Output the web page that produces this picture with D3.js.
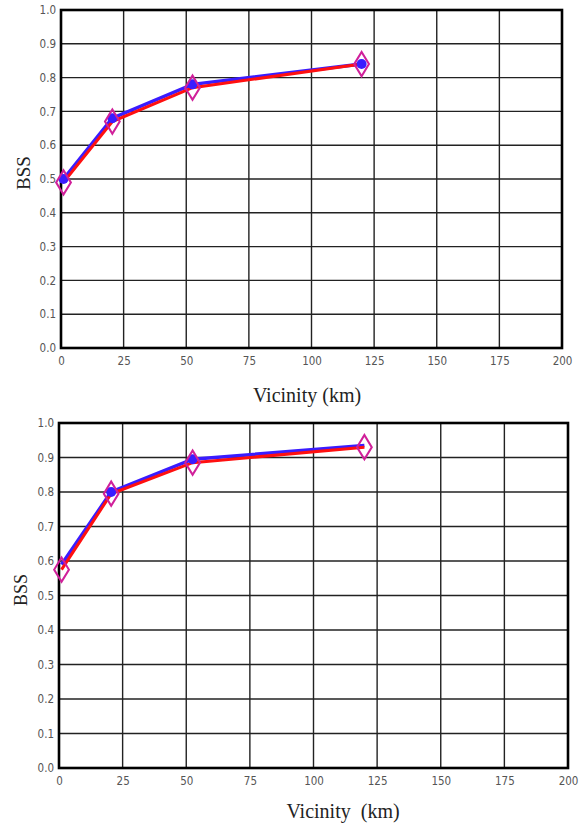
<!DOCTYPE html>
<html><head><meta charset="utf-8">
<script src="https://cdn.jsdelivr.net/npm/d3@7/dist/d3.min.js"></script>
<style>body{margin:0;background:#fff}svg{display:block}</style>
</head><body>
<script>
const xTicks = [0, 25, 50, 75, 100, 125, 150, 175, 200];
const yTicks = [0.0, 0.1, 0.2, 0.3, 0.4, 0.5, 0.6, 0.7, 0.8, 0.9, 1.0];
const vicinity = [1, 20.5, 52.5, 120];
const topBlue = [0.50, 0.68, 0.78, 0.84];
const topRed = [0.49, 0.67, 0.77, 0.84];
const botBlue = [0.59, 0.80, 0.895, 0.935];
const botRed = [0.575, 0.795, 0.885, 0.93];
const xTitles = ["Vicinity (km)", "Vicinity\u00a0\u00a0(km)"];
const yTitle = "BSS";

const svg = d3.select("body").append("svg").attr("width", 582).attr("height", 827);

const panels = [
  {l: 61, r: 562, t: 10, b: 348, blue: topBlue, red: topRed, blueDots: [true,true,true,true], title: xTitles[0], tx: 307, ty: 402, yx: 30, yy: 173, ys: 19},
  {l: 59, r: 568, t: 423, b: 768, blue: botBlue, red: botRed, blueDots: [false,true,true,false], title: xTitles[1], tx: 343, ty: 818, yx: 27, yy: 590, ys: 18}
];

panels.forEach(p => {
  const x = d3.scaleLinear().domain([0, 200]).range([p.l, p.r]);
  const y = d3.scaleLinear().domain([0, 1]).range([p.b, p.t]);
  const g = svg.append("g");
  // grid
  g.append("g").selectAll("line").data(xTicks.slice(1, -1)).join("line")
    .attr("x1", d => x(d)).attr("x2", d => x(d)).attr("y1", p.t).attr("y2", p.b)
    .attr("stroke", "#222").attr("stroke-width", 1.4);
  g.append("g").selectAll("line").data(yTicks.slice(1, -1)).join("line")
    .attr("y1", d => y(d)).attr("y2", d => y(d)).attr("x1", p.l).attr("x2", p.r)
    .attr("stroke", "#222").attr("stroke-width", 1.4);
  g.append("rect").attr("x", p.l).attr("y", p.t).attr("width", p.r - p.l).attr("height", p.b - p.t)
    .attr("fill", "none").attr("stroke", "#000").attr("stroke-width", 2.6);
  // axes labels
  const xa = d3.axisBottom(x).tickValues(xTicks).tickSize(0).tickPadding(9).tickFormat(d3.format("d"));
  const xg = g.append("g").attr("transform", `translate(0,${p.b})`).call(xa);
  const ya = d3.axisLeft(y).tickValues(yTicks).tickSize(0).tickPadding(5).tickFormat(d3.format(".1f"));
  const yg = g.append("g").attr("transform", `translate(${p.l},0)`).call(ya);
  [xg, yg].forEach(a => {
    a.select(".domain").remove();
    a.selectAll("text").attr("font-family", "'DejaVu Sans Condensed', 'Liberation Sans Narrow', sans-serif")
      .attr("font-size", 11.5).attr("fill", "#555");
  });
  // titles
  g.append("text").attr("x", p.tx).attr("y", p.ty).attr("text-anchor", "middle")
    .attr("font-family", "'Liberation Serif', 'Times New Roman', serif").attr("font-size", 20).attr("fill", "#222").text(p.title);
  g.append("text").attr("transform", `translate(${p.yx},${p.yy}) rotate(-90)`).attr("text-anchor", "middle")
    .attr("font-family", "'Liberation Serif', 'Times New Roman', serif").attr("font-size", p.ys).attr("fill", "#222").text(yTitle);
  // lines
  const line = vals => d3.line().x((d, i) => x(vicinity[i])).y(d => y(d))(vals);
  g.append("path").attr("d", line(p.blue)).attr("fill", "none").attr("stroke", "#3a1cff").attr("stroke-width", 3.5);
  g.append("path").attr("d", line(p.red)).attr("fill", "none").attr("stroke", "#ff1010").attr("stroke-width", 3);
  // markers
  const dotData = p.blue.map((v, i) => ({x: vicinity[i], y: v, show: p.blueDots[i]})).filter(d => d.show);
  g.append("g").selectAll("circle").data(dotData).join("circle")
    .attr("cx", d => x(d.x)).attr("cy", d => y(d.y)).attr("r", 5).attr("fill", "#3a1cff");
  const diamond = d3.symbol().type(d3.symbolDiamond).size(170);
  g.append("g").selectAll("path").data(p.red.map((v, i) => ({x: vicinity[i], y: v}))).join("path")
    .attr("d", diamond).attr("transform", d => `translate(${x(d.x)},${y(d.y)}) scale(1.05,1.0)`)
    .attr("fill", "none").attr("stroke", "#d0209a").attr("stroke-width", 2);
});
</script>
</body></html>
